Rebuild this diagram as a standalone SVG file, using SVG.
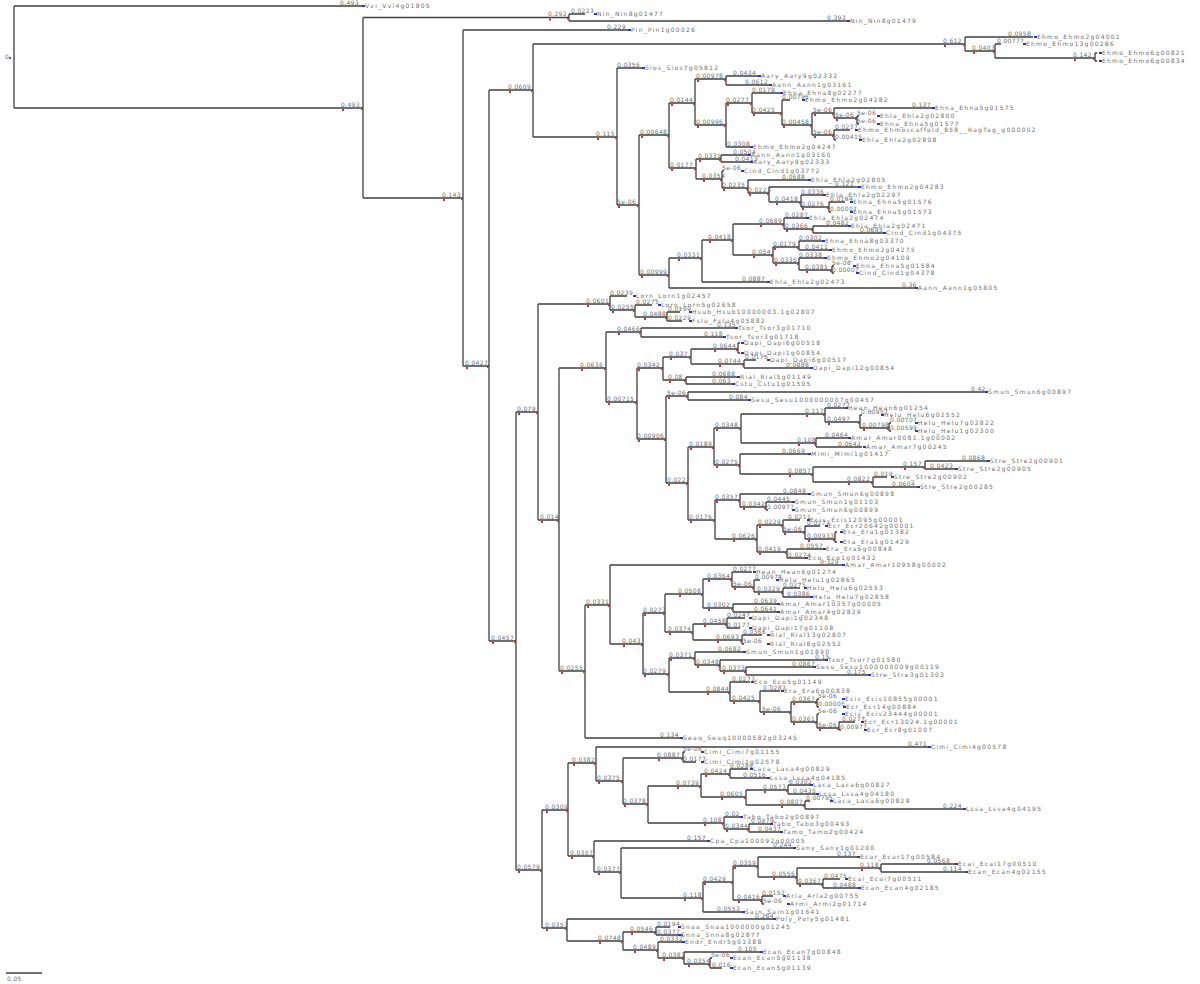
<svg xmlns="http://www.w3.org/2000/svg" width="1200" height="984" viewBox="0 0 1200 984">
<style>
.l{fill:none;stroke:#404040;stroke-width:1.3}
.b{font-family:"DejaVu Sans",sans-serif;font-size:6px;fill:#6e6e6e;letter-spacing:0.35px}
.n{font-family:"DejaVu Sans",sans-serif;font-size:6px;fill:#6e6e6e;letter-spacing:1.25px}
.r{fill:#d83030}
.m{fill:#3030d0}
</style>
<rect width="1200" height="984" fill="#ffffff"/>
<g id="connectors">
<path class="l" d="M14 6V108M14 6H362M14 108H363M363 17.5V198M363 17.5H569M363 198H463M569 14V21M569 14H585M569 21H847M463 30V366M463 30H628M463 366H489M489 90V641M489 90H533M489 641H516M533 44V137M533 44H965M533 137H617M965 37V51M965 37H1033M965 51H995M995 44V58M995 44H1001M995 58H1095M1095 53V61M1095 53H1097M1095 61H1097M617 68V205M617 68H642M617 205H639M639 135V275M639 135H669M639 275H669M669 103V168M669 103H695M669 168H696M695 79V125M695 79H726M695 125H726M726 76V85M726 76H758M726 85H769M726 103V147M726 103H752M726 147H750M752 93V113M752 93H780M752 113H782M782 100V125M782 100H790M782 125H812M812 113V135M812 113H834M812 135H834M834 108V118M834 108H932M834 118H857M857 116V124M857 116H859M857 124H859M834 130V140M834 130H850M834 140H836M696 159V179M696 159H721M696 179H722M721 155V162M721 155H748M721 162H750M722 171V188M722 171H724M722 188H748M748 180V193M748 180H808M748 193H769M769 187V202M769 187H858M769 202H801M801 195V207M801 195H823M801 207H829M829 202V212M829 202H845M829 212H831M669 258V288M669 258H702M669 288H915M702 240V282M702 240H733M702 282H767M733 224V255M733 224H784M733 255H773M784 218V229M784 218H806M784 229H813M813 226V233M813 226H848M813 233H883M773 247V263M773 247H799M773 263H799M799 241V250M799 241H822M799 250H829M799 258V270M799 258H824M799 270H832M832 266V273M832 266H834M832 273H834"/>
<path class="l" d="M516 412V870M516 412H538M516 870H542M538 304V520M538 304H610M538 520H559M610 296V310M610 296H627M610 310H635M635 305V317M635 305H652M635 317H667M667 312V321M667 312H680M667 321H682M559 368V671M559 368H606M559 671H585M606 332V402M606 332H641M606 402H637M641 328V337M641 328H735M641 337H723M637 368V439M637 368H663M637 439H666M663 357V380M663 357H691M663 380H686M691 349V364M691 349H738M691 364H744M738 343V353M738 343H740M738 353H740M744 360V368M744 360H756M744 368H810M686 377V384M686 377H737M686 384H732M666 396V483M666 396H688M666 483H688M688 392V400M688 392H985M688 400H748M688 447V520M688 447H714M688 520H715M714 428V465M714 428H741M714 465H740M741 414V443M741 414H825M741 443H816M825 408V422M825 408H845M825 422H860M860 415V428M860 415H862M860 428H889M889 423V431M889 423H891M889 431H891M816 438V447M816 438H848M816 447H862M740 454V474M740 454H808M740 474H813M813 467V482M813 467H925M813 482H873M925 461V469M925 461H987M925 469H955M873 477V487M873 477H887M873 487H917M715 500V539M715 500H740M715 539H757M740 494V507M740 494H808M740 507H766M766 502V510M766 502H792M766 510H768M757 525V552M757 525H783M757 552H787M783 520V532M783 520H800M783 532H805M805 526V539M805 526H820M805 539H835M835 532V542M835 532H837M835 542H837M787 549V558M787 549H823M787 558H805"/>
<path class="l" d="M585 605V738M585 605H610M585 738H680M610 565V644M610 565H842M610 644H643M643 613V674M643 613H665M643 674H669M665 594V632M665 594H703M665 632H693M703 579V608M703 579H732M703 608H733M732 572V587M732 572H752M732 587H754M754 580V592M754 580H760M754 592H783M783 588V597M783 588H800M783 597H810M733 604V612M733 604H777M733 612H777M693 624V640M693 624H727M693 640H742M727 618V628M727 618H745M727 628H740M742 635V644M742 635H762M742 644H744M669 658V692M669 658H695M669 692H730M695 652V665M695 652H743M695 665H720M720 660V671M720 660H825M720 671H746M746 667V675M746 667H813M746 675H868M730 682V701M730 682H750M730 701H760M760 691V712M760 691H780M760 712H791M791 702V722M791 702H817M791 722H817M817 699V707M817 699H819M817 707H819M817 714V728M817 714H819M817 728H839M839 722V730M839 722H855M839 730H841"/>
<path class="l" d="M542 810V928M542 810H568M542 928H567M568 763V856M568 763H596M568 856H594M596 747V781M596 747H928M596 781H623M623 758V804M623 758H683M623 804H648M683 752V762M683 752H685M683 762H696M648 786V823M648 786H701M648 823H724M701 774V797M701 774H730M701 797H746M730 769V778M730 769H748M730 778H767M746 790V805M746 790H788M746 805H805M788 785V794M788 785H810M788 794H816M805 801V809M805 801H810M805 809H963M724 817V829M724 817H740M724 829H749M749 824V832M749 824H770M749 832H780M594 841V872M594 841H707M594 872H621M621 848V898M621 848H793M621 898H703M703 882V912M703 882H733M703 912H742M733 866V900M733 866H758M733 900H762M758 857V877M758 857H857M758 877H797M797 868V884M797 868H881M797 884H823M881 864V872M881 864H955M881 872H965M823 879V888M823 879H840M823 888H858M762 896V904M762 896H773M762 904H764M567 919V941M567 919H773M567 941H623M623 932V950M623 932H656M623 950H658M656 927V935M656 927H670M656 935H683M658 942V958M658 942H682M658 958H684M684 952V964M684 952H760M684 964H710M710 958V968M710 958H712M710 968H722"/>
</g>
<g id="root"><text class="b" x="5" y="59">0</text><rect class="r" x="9" y="57" width="2" height="2"/></g>
<g id="scale-bar"><path class="l" d="M6 973H42" stroke-width="1"/><text class="b" x="7" y="981">0.05</text></g>
<g id="internal-nodes">
<g id="n363"><text class="b" x="341" y="106.5">0.493</text><rect class="r" x="342" y="109" width="2" height="2"/><rect class="r" x="361" y="108.5" width="1.6" height="1.6"/></g>
<g id="n569"><text class="b" x="548" y="16">0.292</text><rect class="r" x="549" y="18.5" width="2" height="2"/><rect class="r" x="567" y="18" width="1.6" height="1.6"/></g>
<g id="n463"><text class="b" x="442" y="196.5">0.143</text><rect class="r" x="443" y="199" width="2" height="2"/><rect class="r" x="461" y="198.5" width="1.6" height="1.6"/></g>
<g id="n489"><text class="b" x="465" y="364.5">0.0427</text><rect class="r" x="466" y="367" width="2" height="2"/><rect class="r" x="487" y="366.5" width="1.6" height="1.6"/></g>
<g id="n533"><text class="b" x="508" y="88.5">0.0609</text><rect class="r" x="509" y="91" width="2" height="2"/><rect class="r" x="531" y="90.5" width="1.6" height="1.6"/></g>
<g id="n516"><text class="b" x="491" y="639.5">0.0457</text><rect class="r" x="492" y="642" width="2" height="2"/><rect class="r" x="514" y="641.5" width="1.6" height="1.6"/></g>
<g id="n965"><text class="b" x="943" y="42.5">0.612</text><rect class="r" x="944" y="45" width="2" height="2"/><rect class="r" x="963" y="44.5" width="1.6" height="1.6"/></g>
<g id="n617"><text class="b" x="596" y="135.5">0.115</text><rect class="r" x="597" y="138" width="2" height="2"/><rect class="r" x="615" y="137.5" width="1.6" height="1.6"/></g>
<g id="n995"><text class="b" x="972" y="49.5">0.0403</text><rect class="r" x="973" y="52" width="2" height="2"/><rect class="r" x="993" y="51.5" width="1.6" height="1.6"/></g>
<g id="n1095"><text class="b" x="1073" y="56.5">0.142</text><rect class="r" x="1074" y="59" width="2" height="2"/><rect class="r" x="1093" y="58.5" width="1.6" height="1.6"/></g>
<g id="n639"><text class="b" x="617" y="203.5">5e-06</text><rect class="r" x="618" y="206" width="2" height="2"/><rect class="r" x="637" y="205.5" width="1.6" height="1.6"/></g>
<g id="n669a"><text class="b" x="640" y="133.5">0.00648</text><rect class="r" x="641" y="136" width="2" height="2"/><rect class="r" x="667" y="135.5" width="1.6" height="1.6"/></g>
<g id="n669b"><text class="b" x="640" y="273.5">0.00999</text><rect class="r" x="641" y="276" width="2" height="2"/><rect class="r" x="667" y="275.5" width="1.6" height="1.6"/></g>
<g id="n695"><text class="b" x="670" y="101.5">0.0144</text><rect class="r" x="671" y="104" width="2" height="2"/><rect class="r" x="693" y="103.5" width="1.6" height="1.6"/></g>
<g id="n696"><text class="b" x="670" y="166.5">0.0177</text><rect class="r" x="671" y="169" width="2" height="2"/><rect class="r" x="694" y="168.5" width="1.6" height="1.6"/></g>
<g id="n726a"><text class="b" x="696" y="77.5">0.00978</text><rect class="r" x="697" y="80" width="2" height="2"/><rect class="r" x="724" y="79.5" width="1.6" height="1.6"/></g>
<g id="n726b"><text class="b" x="696" y="123.5">0.00996</text><rect class="r" x="697" y="126" width="2" height="2"/><rect class="r" x="724" y="125.5" width="1.6" height="1.6"/></g>
<g id="n752"><text class="b" x="726" y="101.5">0.0277</text><rect class="r" x="727" y="104" width="2" height="2"/><rect class="r" x="750" y="103.5" width="1.6" height="1.6"/></g>
<g id="n782"><text class="b" x="752" y="111.5">0.0425</text><rect class="r" x="753" y="114" width="2" height="2"/><rect class="r" x="780" y="113.5" width="1.6" height="1.6"/></g>
<g id="n812"><text class="b" x="782" y="123.5">0.00458</text><rect class="r" x="783" y="126" width="2" height="2"/><rect class="r" x="810" y="125.5" width="1.6" height="1.6"/></g>
<g id="n834a"><text class="b" x="813" y="111.5">5e-06</text><rect class="r" x="814" y="114" width="2" height="2"/><rect class="r" x="832" y="113.5" width="1.6" height="1.6"/></g>
<g id="n834b"><text class="b" x="813" y="133.5">5e-06</text><rect class="r" x="814" y="136" width="2" height="2"/><rect class="r" x="832" y="135.5" width="1.6" height="1.6"/></g>
<g id="n857"><text class="b" x="835" y="116.5">5e-06</text><rect class="r" x="836" y="119" width="2" height="2"/><rect class="r" x="855" y="118.5" width="1.6" height="1.6"/></g>
<g id="n721"><text class="b" x="698" y="157.5">0.0331</text><rect class="r" x="699" y="160" width="2" height="2"/><rect class="r" x="719" y="159.5" width="1.6" height="1.6"/></g>
<g id="n722"><text class="b" x="702" y="177.5">0.0354</text><rect class="r" x="703" y="180" width="2" height="2"/><rect class="r" x="720" y="179.5" width="1.6" height="1.6"/></g>
<g id="n748"><text class="b" x="722" y="186.5">0.0235</text><rect class="r" x="723" y="189" width="2" height="2"/><rect class="r" x="746" y="188.5" width="1.6" height="1.6"/></g>
<g id="n769"><text class="b" x="748" y="191.5">0.0223</text><rect class="r" x="749" y="194" width="2" height="2"/><rect class="r" x="767" y="193.5" width="1.6" height="1.6"/></g>
<g id="n801"><text class="b" x="775" y="200.5">0.0418</text><rect class="r" x="776" y="203" width="2" height="2"/><rect class="r" x="799" y="202.5" width="1.6" height="1.6"/></g>
<g id="n829"><text class="b" x="801" y="205.5">0.0276</text><rect class="r" x="802" y="208" width="2" height="2"/><rect class="r" x="827" y="207.5" width="1.6" height="1.6"/></g>
<g id="n702"><text class="b" x="677" y="256.5">0.0331</text><rect class="r" x="678" y="259" width="2" height="2"/><rect class="r" x="700" y="258.5" width="1.6" height="1.6"/></g>
<g id="n733a"><text class="b" x="708" y="238.5">0.0418</text><rect class="r" x="709" y="241" width="2" height="2"/><rect class="r" x="731" y="240.5" width="1.6" height="1.6"/></g>
<g id="n784"><text class="b" x="759" y="222.5">0.0689</text><rect class="r" x="760" y="225" width="2" height="2"/><rect class="r" x="782" y="224.5" width="1.6" height="1.6"/></g>
<g id="n773"><text class="b" x="752" y="253.5">0.054</text><rect class="r" x="753" y="256" width="2" height="2"/><rect class="r" x="771" y="255.5" width="1.6" height="1.6"/></g>
<g id="n813a"><text class="b" x="785" y="227.5">0.0366</text><rect class="r" x="786" y="230" width="2" height="2"/><rect class="r" x="811" y="229.5" width="1.6" height="1.6"/></g>
<g id="n799a"><text class="b" x="773" y="245.5">0.0179</text><rect class="r" x="774" y="248" width="2" height="2"/><rect class="r" x="797" y="247.5" width="1.6" height="1.6"/></g>
<g id="n799b"><text class="b" x="774" y="261.5">0.0336</text><rect class="r" x="775" y="264" width="2" height="2"/><rect class="r" x="797" y="263.5" width="1.6" height="1.6"/></g>
<g id="n832"><text class="b" x="805" y="268.5">0.0385</text><rect class="r" x="806" y="271" width="2" height="2"/><rect class="r" x="830" y="270.5" width="1.6" height="1.6"/></g>
<g id="n538"><text class="b" x="517" y="410.5">0.079</text><rect class="r" x="518" y="413" width="2" height="2"/><rect class="r" x="536" y="412.5" width="1.6" height="1.6"/></g>
<g id="n542"><text class="b" x="517" y="868.5">0.0579</text><rect class="r" x="518" y="871" width="2" height="2"/><rect class="r" x="540" y="870.5" width="1.6" height="1.6"/></g>
<g id="n610a"><text class="b" x="586" y="302.5">0.0601</text><rect class="r" x="587" y="305" width="2" height="2"/><rect class="r" x="608" y="304.5" width="1.6" height="1.6"/></g>
<g id="n559"><text class="b" x="540" y="518.5">0.014</text><rect class="r" x="541" y="521" width="2" height="2"/><rect class="r" x="557" y="520.5" width="1.6" height="1.6"/></g>
<g id="n635"><text class="b" x="611" y="308.5">0.0255</text><rect class="r" x="612" y="311" width="2" height="2"/><rect class="r" x="633" y="310.5" width="1.6" height="1.6"/></g>
<g id="n667"><text class="b" x="643" y="315.5">0.0488</text><rect class="r" x="644" y="318" width="2" height="2"/><rect class="r" x="665" y="317.5" width="1.6" height="1.6"/></g>
<g id="n606"><text class="b" x="580" y="366.5">0.0636</text><rect class="r" x="581" y="369" width="2" height="2"/><rect class="r" x="604" y="368.5" width="1.6" height="1.6"/></g>
<g id="n585"><text class="b" x="560" y="669.5">0.0255</text><rect class="r" x="561" y="672" width="2" height="2"/><rect class="r" x="583" y="671.5" width="1.6" height="1.6"/></g>
<g id="n641"><text class="b" x="617" y="330.5">0.0466</text><rect class="r" x="618" y="333" width="2" height="2"/><rect class="r" x="639" y="332.5" width="1.6" height="1.6"/></g>
<g id="n637"><text class="b" x="607" y="400.5">0.00715</text><rect class="r" x="608" y="403" width="2" height="2"/><rect class="r" x="635" y="402.5" width="1.6" height="1.6"/></g>
<g id="n663"><text class="b" x="637" y="366.5">0.0342</text><rect class="r" x="638" y="369" width="2" height="2"/><rect class="r" x="661" y="368.5" width="1.6" height="1.6"/></g>
<g id="n666"><text class="b" x="637" y="437.5">0.00906</text><rect class="r" x="638" y="440" width="2" height="2"/><rect class="r" x="664" y="439.5" width="1.6" height="1.6"/></g>
<g id="n691"><text class="b" x="669" y="355.5">0.037</text><rect class="r" x="670" y="358" width="2" height="2"/><rect class="r" x="689" y="357.5" width="1.6" height="1.6"/></g>
<g id="n686"><text class="b" x="668" y="378.5">0.08</text><rect class="r" x="669" y="381" width="2" height="2"/><rect class="r" x="684" y="380.5" width="1.6" height="1.6"/></g>
<g id="n738"><text class="b" x="713" y="347.5">0.0644</text><rect class="r" x="714" y="350" width="2" height="2"/><rect class="r" x="736" y="349.5" width="1.6" height="1.6"/></g>
<g id="n744"><text class="b" x="718" y="362.5">0.0744</text><rect class="r" x="719" y="365" width="2" height="2"/><rect class="r" x="742" y="364.5" width="1.6" height="1.6"/></g>
<g id="n688a"><text class="b" x="667" y="394.5">5e-06</text><rect class="r" x="668" y="397" width="2" height="2"/><rect class="r" x="686" y="396.5" width="1.6" height="1.6"/></g>
<g id="n688b"><text class="b" x="667" y="481.5">0.0227</text><rect class="r" x="668" y="484" width="2" height="2"/><rect class="r" x="686" y="483.5" width="1.6" height="1.6"/></g>
<g id="n714"><text class="b" x="689" y="445.5">0.0189</text><rect class="r" x="690" y="448" width="2" height="2"/><rect class="r" x="712" y="447.5" width="1.6" height="1.6"/></g>
<g id="n715"><text class="b" x="689" y="518.5">0.0176</text><rect class="r" x="690" y="521" width="2" height="2"/><rect class="r" x="713" y="520.5" width="1.6" height="1.6"/></g>
<g id="n741"><text class="b" x="715" y="426.5">0.0348</text><rect class="r" x="716" y="429" width="2" height="2"/><rect class="r" x="739" y="428.5" width="1.6" height="1.6"/></g>
<g id="n740a"><text class="b" x="715" y="463.5">0.0275</text><rect class="r" x="716" y="466" width="2" height="2"/><rect class="r" x="738" y="465.5" width="1.6" height="1.6"/></g>
<g id="n825"><text class="b" x="805" y="412.5">0.117</text><rect class="r" x="806" y="415" width="2" height="2"/><rect class="r" x="823" y="414.5" width="1.6" height="1.6"/></g>
<g id="n816"><text class="b" x="797" y="441.5">0.108</text><rect class="r" x="798" y="444" width="2" height="2"/><rect class="r" x="814" y="443.5" width="1.6" height="1.6"/></g>
<g id="n860"><text class="b" x="827" y="420.5">0.0497</text><rect class="r" x="828" y="423" width="2" height="2"/><rect class="r" x="858" y="422.5" width="1.6" height="1.6"/></g>
<g id="n889"><text class="b" x="862" y="426.5">0.00798</text><rect class="r" x="863" y="429" width="2" height="2"/><rect class="r" x="887" y="428.5" width="1.6" height="1.6"/></g>
<g id="n813b"><text class="b" x="788" y="472.5">0.0857</text><rect class="r" x="789" y="475" width="2" height="2"/><rect class="r" x="811" y="474.5" width="1.6" height="1.6"/></g>
<g id="n925"><text class="b" x="903" y="465.5">0.157</text><rect class="r" x="904" y="468" width="2" height="2"/><rect class="r" x="923" y="467.5" width="1.6" height="1.6"/></g>
<g id="n873"><text class="b" x="847" y="480.5">0.0822</text><rect class="r" x="848" y="483" width="2" height="2"/><rect class="r" x="871" y="482.5" width="1.6" height="1.6"/></g>
<g id="n740b"><text class="b" x="715" y="498.5">0.0357</text><rect class="r" x="716" y="501" width="2" height="2"/><rect class="r" x="738" y="500.5" width="1.6" height="1.6"/></g>
<g id="n757"><text class="b" x="732" y="537.5">0.0626</text><rect class="r" x="733" y="540" width="2" height="2"/><rect class="r" x="755" y="539.5" width="1.6" height="1.6"/></g>
<g id="n766"><text class="b" x="742" y="505.5">0.0342</text><rect class="r" x="743" y="508" width="2" height="2"/><rect class="r" x="764" y="507.5" width="1.6" height="1.6"/></g>
<g id="n783a"><text class="b" x="758" y="523.5">0.0229</text><rect class="r" x="759" y="526" width="2" height="2"/><rect class="r" x="781" y="525.5" width="1.6" height="1.6"/></g>
<g id="n787"><text class="b" x="758" y="550.5">0.0419</text><rect class="r" x="759" y="553" width="2" height="2"/><rect class="r" x="785" y="552.5" width="1.6" height="1.6"/></g>
<g id="n805a"><text class="b" x="783" y="530.5">5e-06</text><rect class="r" x="784" y="533" width="2" height="2"/><rect class="r" x="803" y="532.5" width="1.6" height="1.6"/></g>
<g id="n835"><text class="b" x="807" y="537.5">0.00933</text><rect class="r" x="808" y="540" width="2" height="2"/><rect class="r" x="833" y="539.5" width="1.6" height="1.6"/></g>
<g id="n610b"><text class="b" x="586" y="603.5">0.0331</text><rect class="r" x="587" y="606" width="2" height="2"/><rect class="r" x="608" y="605.5" width="1.6" height="1.6"/></g>
<g id="n643"><text class="b" x="622" y="642.5">0.043</text><rect class="r" x="623" y="645" width="2" height="2"/><rect class="r" x="641" y="644.5" width="1.6" height="1.6"/></g>
<g id="n665"><text class="b" x="643" y="611.5">0.0273</text><rect class="r" x="644" y="614" width="2" height="2"/><rect class="r" x="663" y="613.5" width="1.6" height="1.6"/></g>
<g id="n669c"><text class="b" x="643" y="672.5">0.0279</text><rect class="r" x="644" y="675" width="2" height="2"/><rect class="r" x="667" y="674.5" width="1.6" height="1.6"/></g>
<g id="n703a"><text class="b" x="678" y="592.5">0.0508</text><rect class="r" x="679" y="595" width="2" height="2"/><rect class="r" x="701" y="594.5" width="1.6" height="1.6"/></g>
<g id="n693"><text class="b" x="668" y="630.5">0.0374</text><rect class="r" x="669" y="633" width="2" height="2"/><rect class="r" x="691" y="632.5" width="1.6" height="1.6"/></g>
<g id="n732"><text class="b" x="707" y="577.5">0.0364</text><rect class="r" x="708" y="580" width="2" height="2"/><rect class="r" x="730" y="579.5" width="1.6" height="1.6"/></g>
<g id="n733b"><text class="b" x="707" y="606.5">0.0302</text><rect class="r" x="708" y="609" width="2" height="2"/><rect class="r" x="731" y="608.5" width="1.6" height="1.6"/></g>
<g id="n754"><text class="b" x="733" y="585.5">5e-06</text><rect class="r" x="734" y="588" width="2" height="2"/><rect class="r" x="752" y="587.5" width="1.6" height="1.6"/></g>
<g id="n783b"><text class="b" x="757" y="590.5">0.0329</text><rect class="r" x="758" y="593" width="2" height="2"/><rect class="r" x="781" y="592.5" width="1.6" height="1.6"/></g>
<g id="n727"><text class="b" x="703" y="622.5">0.0458</text><rect class="r" x="704" y="625" width="2" height="2"/><rect class="r" x="725" y="624.5" width="1.6" height="1.6"/></g>
<g id="n742"><text class="b" x="716" y="638.5">0.0693</text><rect class="r" x="717" y="641" width="2" height="2"/><rect class="r" x="740" y="640.5" width="1.6" height="1.6"/></g>
<g id="n695b"><text class="b" x="669" y="656.5">0.0371</text><rect class="r" x="670" y="659" width="2" height="2"/><rect class="r" x="693" y="658.5" width="1.6" height="1.6"/></g>
<g id="n730a"><text class="b" x="706" y="690.5">0.0844</text><rect class="r" x="707" y="693" width="2" height="2"/><rect class="r" x="728" y="692.5" width="1.6" height="1.6"/></g>
<g id="n720"><text class="b" x="696" y="663.5">0.0348</text><rect class="r" x="697" y="666" width="2" height="2"/><rect class="r" x="718" y="665.5" width="1.6" height="1.6"/></g>
<g id="n746a"><text class="b" x="722" y="669.5">0.0373</text><rect class="r" x="723" y="672" width="2" height="2"/><rect class="r" x="744" y="671.5" width="1.6" height="1.6"/></g>
<g id="n760"><text class="b" x="732" y="699.5">0.0425</text><rect class="r" x="733" y="702" width="2" height="2"/><rect class="r" x="758" y="701.5" width="1.6" height="1.6"/></g>
<g id="n791"><text class="b" x="762" y="710.5">5e-06</text><rect class="r" x="763" y="713" width="2" height="2"/><rect class="r" x="789" y="712.5" width="1.6" height="1.6"/></g>
<g id="n817a"><text class="b" x="792" y="700.5">0.0367</text><rect class="r" x="793" y="703" width="2" height="2"/><rect class="r" x="815" y="702.5" width="1.6" height="1.6"/></g>
<g id="n817b"><text class="b" x="792" y="720.5">0.0361</text><rect class="r" x="793" y="723" width="2" height="2"/><rect class="r" x="815" y="722.5" width="1.6" height="1.6"/></g>
<g id="n839"><text class="b" x="818" y="726.5">5e-06</text><rect class="r" x="819" y="729" width="2" height="2"/><rect class="r" x="837" y="728.5" width="1.6" height="1.6"/></g>
<g id="n568"><text class="b" x="545" y="808.5">0.0309</text><rect class="r" x="546" y="811" width="2" height="2"/><rect class="r" x="566" y="810.5" width="1.6" height="1.6"/></g>
<g id="n567"><text class="b" x="545" y="926.5">0.0357</text><rect class="r" x="546" y="929" width="2" height="2"/><rect class="r" x="565" y="928.5" width="1.6" height="1.6"/></g>
<g id="n596"><text class="b" x="572" y="761.5">0.0382</text><rect class="r" x="573" y="764" width="2" height="2"/><rect class="r" x="594" y="763.5" width="1.6" height="1.6"/></g>
<g id="n594"><text class="b" x="570" y="854.5">0.0307</text><rect class="r" x="571" y="857" width="2" height="2"/><rect class="r" x="592" y="856.5" width="1.6" height="1.6"/></g>
<g id="n623a"><text class="b" x="597" y="779.5">0.0375</text><rect class="r" x="598" y="782" width="2" height="2"/><rect class="r" x="621" y="781.5" width="1.6" height="1.6"/></g>
<g id="n683"><text class="b" x="657" y="756.5">0.0887</text><rect class="r" x="658" y="759" width="2" height="2"/><rect class="r" x="681" y="758.5" width="1.6" height="1.6"/></g>
<g id="n648"><text class="b" x="623" y="802.5">0.0378</text><rect class="r" x="624" y="805" width="2" height="2"/><rect class="r" x="646" y="804.5" width="1.6" height="1.6"/></g>
<g id="n701"><text class="b" x="676" y="784.5">0.0739</text><rect class="r" x="677" y="787" width="2" height="2"/><rect class="r" x="699" y="786.5" width="1.6" height="1.6"/></g>
<g id="n724"><text class="b" x="703" y="821.5">0.108</text><rect class="r" x="704" y="824" width="2" height="2"/><rect class="r" x="722" y="823.5" width="1.6" height="1.6"/></g>
<g id="n730c"><text class="b" x="704" y="772.5">0.0424</text><rect class="r" x="705" y="775" width="2" height="2"/><rect class="r" x="728" y="774.5" width="1.6" height="1.6"/></g>
<g id="n746c"><text class="b" x="720" y="795.5">0.0605</text><rect class="r" x="721" y="798" width="2" height="2"/><rect class="r" x="744" y="797.5" width="1.6" height="1.6"/></g>
<g id="n788"><text class="b" x="763" y="788.5">0.0573</text><rect class="r" x="764" y="791" width="2" height="2"/><rect class="r" x="786" y="790.5" width="1.6" height="1.6"/></g>
<g id="n805c"><text class="b" x="780" y="803.5">0.0807</text><rect class="r" x="781" y="806" width="2" height="2"/><rect class="r" x="803" y="805.5" width="1.6" height="1.6"/></g>
<g id="n749"><text class="b" x="725" y="827.5">0.0344</text><rect class="r" x="726" y="830" width="2" height="2"/><rect class="r" x="747" y="829.5" width="1.6" height="1.6"/></g>
<g id="n621"><text class="b" x="597" y="870.5">0.0377</text><rect class="r" x="598" y="873" width="2" height="2"/><rect class="r" x="619" y="872.5" width="1.6" height="1.6"/></g>
<g id="n703c"><text class="b" x="683" y="896.5">0.118</text><rect class="r" x="684" y="899" width="2" height="2"/><rect class="r" x="701" y="898.5" width="1.6" height="1.6"/></g>
<g id="n733c"><text class="b" x="703" y="880.5">0.0429</text><rect class="r" x="704" y="883" width="2" height="2"/><rect class="r" x="731" y="882.5" width="1.6" height="1.6"/></g>
<g id="n758"><text class="b" x="733" y="864.5">0.0359</text><rect class="r" x="734" y="867" width="2" height="2"/><rect class="r" x="756" y="866.5" width="1.6" height="1.6"/></g>
<g id="n762"><text class="b" x="737" y="898.5">0.0416</text><rect class="r" x="738" y="901" width="2" height="2"/><rect class="r" x="760" y="900.5" width="1.6" height="1.6"/></g>
<g id="n797"><text class="b" x="772" y="875.5">0.0556</text><rect class="r" x="773" y="878" width="2" height="2"/><rect class="r" x="795" y="877.5" width="1.6" height="1.6"/></g>
<g id="n881"><text class="b" x="860" y="866.5">0.118</text><rect class="r" x="861" y="869" width="2" height="2"/><rect class="r" x="879" y="868.5" width="1.6" height="1.6"/></g>
<g id="n823"><text class="b" x="798" y="882.5">0.0367</text><rect class="r" x="799" y="885" width="2" height="2"/><rect class="r" x="821" y="884.5" width="1.6" height="1.6"/></g>
<g id="n623b"><text class="b" x="598" y="939.5">0.0748</text><rect class="r" x="599" y="942" width="2" height="2"/><rect class="r" x="621" y="941.5" width="1.6" height="1.6"/></g>
<g id="n656"><text class="b" x="630" y="930.5">0.0546</text><rect class="r" x="631" y="933" width="2" height="2"/><rect class="r" x="654" y="932.5" width="1.6" height="1.6"/></g>
<g id="n658"><text class="b" x="633" y="948.5">0.0489</text><rect class="r" x="634" y="951" width="2" height="2"/><rect class="r" x="656" y="950.5" width="1.6" height="1.6"/></g>
<g id="n684"><text class="b" x="662" y="956.5">0.0383</text><rect class="r" x="663" y="959" width="2" height="2"/><rect class="r" x="682" y="958.5" width="1.6" height="1.6"/></g>
<g id="n710"><text class="b" x="687" y="962.5">0.0354</text><rect class="r" x="688" y="965" width="2" height="2"/><rect class="r" x="708" y="964.5" width="1.6" height="1.6"/></g>
</g>
<g id="leaves">
<g id="L-Vvi_Vvi4g01805"><text class="b" x="340" y="4.5">0.493</text><rect class="m" x="362" y="5" width="3" height="2"/><text class="n" x="365" y="8.3">Vvi_Vvi4g01805</text></g>
<g id="L-Nin_Nin8g01477"><text class="b" x="571" y="12.5">0.0223</text><rect class="m" x="594" y="13" width="3" height="2"/><text class="n" x="597" y="16.3">Nin_Nin8g01477</text></g>
<g id="L-Nin_Nin8g01479"><text class="b" x="827" y="19.5">0.393</text><rect class="m" x="847" y="20" width="3" height="2"/><text class="n" x="850" y="23.3">Nin_Nin8g01479</text></g>
<g id="L-Pin_Pin1g00026"><text class="b" x="607" y="28.5">0.229</text><rect class="m" x="628" y="29" width="3" height="2"/><text class="n" x="631" y="32.3">Pin_Pin1g00026</text></g>
<g id="L-Ehmo_Ehmo2g04001"><text class="b" x="1008" y="35.5">0.0958</text><rect class="m" x="1034" y="36" width="3" height="2"/><text class="n" x="1037" y="39.3">Ehmo_Ehmo2g04001</text></g>
<g id="L-Ehmo_Ehmo13g00286"><text class="b" x="997" y="42.5">0.00777</text><rect class="m" x="1023" y="43" width="3" height="2"/><text class="n" x="1026" y="46.3">Ehmo_Ehmo13g00286</text></g>
<g id="L-Ehmo_Ehmo6g00821"><rect class="m" x="1099" y="52" width="3" height="2"/><text class="n" x="1102" y="55.3">Ehmo_Ehmo6g00821</text></g>
<g id="L-Ehmo_Ehmo6g00834"><rect class="m" x="1099" y="60" width="3" height="2"/><text class="n" x="1102" y="63.3">Ehmo_Ehmo6g00834</text></g>
<g id="L-Sios_Sios7g05812"><text class="b" x="617" y="66.5">0.0356</text><rect class="m" x="642" y="67" width="3" height="2"/><text class="n" x="645" y="70.3">Sios_Sios7g05812</text></g>
<g id="L-Aary_Aary9g02332"><text class="b" x="733" y="74.5">0.0434</text><rect class="m" x="758" y="75" width="3" height="2"/><text class="n" x="761" y="78.3">Aary_Aary9g02332</text></g>
<g id="L-Aann_Aann1g03161"><text class="b" x="745" y="83.5">0.0612</text><rect class="m" x="769" y="84" width="3" height="2"/><text class="n" x="772" y="87.3">Aann_Aann1g03161</text></g>
<g id="L-Ehna_Ehna8g02277"><text class="b" x="752" y="91.5">0.0178</text><rect class="m" x="780" y="92" width="3" height="2"/><text class="n" x="783" y="95.3">Ehna_Ehna8g02277</text></g>
<g id="L-Ehmo_Ehmo2g04282"><text class="b" x="782" y="98.5">0.00795</text><rect class="m" x="802" y="99" width="3" height="2"/><text class="n" x="805" y="102.3">Ehmo_Ehmo2g04282</text></g>
<g id="L-Ehna_Ehna5g01575"><text class="b" x="912" y="106.5">0.137</text><rect class="m" x="932" y="107" width="3" height="2"/><text class="n" x="935" y="110.3">Ehna_Ehna5g01575</text></g>
<g id="L-Ehla_Ehla2g02800"><text class="b" x="857" y="114.5">5e-06</text><rect class="m" x="877" y="115" width="3" height="2"/><text class="n" x="880" y="118.3">Ehla_Ehla2g02800</text></g>
<g id="L-Ehna_Ehna5g01577"><text class="b" x="857" y="122.5">5e-06</text><rect class="m" x="877" y="123" width="3" height="2"/><text class="n" x="880" y="126.3">Ehna_Ehna5g01577</text></g>
<g id="L-Ehmo_Ehmoscaffold_858"><text class="b" x="835" y="128.5">0.0237</text><rect class="m" x="855" y="129" width="3" height="2"/><text class="n" x="858" y="132.3">Ehmo_Ehmoscaffold_858__RagTag_g000002</text></g>
<g id="L-Ehla_Ehla2g02808"><text class="b" x="835" y="138.5">0.00415</text><rect class="m" x="859" y="139" width="3" height="2"/><text class="n" x="862" y="142.3">Ehla_Ehla2g02808</text></g>
<g id="L-Ehmo_Ehmo2g04247"><text class="b" x="727" y="145.5">0.0308</text><rect class="m" x="750" y="146" width="3" height="2"/><text class="n" x="753" y="149.3">Ehmo_Ehmo2g04247</text></g>
<g id="L-Aann_Aann1g03160"><text class="b" x="733" y="153.5">0.0504</text><rect class="m" x="748" y="154" width="3" height="2"/><text class="n" x="751" y="157.3">Aann_Aann1g03160</text></g>
<g id="L-Aary_Aary9g02333"><text class="b" x="735" y="160.5">0.0413</text><rect class="m" x="750" y="161" width="3" height="2"/><text class="n" x="753" y="164.3">Aary_Aary9g02333</text></g>
<g id="L-Cind_Cind1g03772"><text class="b" x="722" y="169.5">5e-06</text><rect class="m" x="741" y="170" width="3" height="2"/><text class="n" x="744" y="173.3">Cind_Cind1g03772</text></g>
<g id="L-Ehla_Ehla2g02805"><text class="b" x="782" y="178.5">0.0688</text><rect class="m" x="808" y="179" width="3" height="2"/><text class="n" x="811" y="182.3">Ehla_Ehla2g02805</text></g>
<g id="L-Ehmo_Ehmo2g04283"><text class="b" x="835" y="185.5">0.121</text><rect class="m" x="858" y="186" width="3" height="2"/><text class="n" x="861" y="189.3">Ehmo_Ehmo2g04283</text></g>
<g id="L-Ehla_Ehla2g02297"><text class="b" x="801" y="193.5">0.0336</text><rect class="m" x="823" y="194" width="3" height="2"/><text class="n" x="826" y="197.3">Ehla_Ehla2g02297</text></g>
<g id="L-Ehna_Ehna5g01576"><text class="b" x="830" y="200.5">0.0194</text><rect class="m" x="850" y="201" width="3" height="2"/><text class="n" x="853" y="204.3">Ehna_Ehna5g01576</text></g>
<g id="L-Ehna_Ehna5g01573"><text class="b" x="830" y="210.5">0.00007</text><rect class="m" x="850" y="211" width="3" height="2"/><text class="n" x="853" y="214.3">Ehna_Ehna5g01573</text></g>
<g id="L-Ehla_Ehla2g02474"><text class="b" x="785" y="216.5">0.0287</text><rect class="m" x="806" y="217" width="3" height="2"/><text class="n" x="809" y="220.3">Ehla_Ehla2g02474</text></g>
<g id="L-Ehla_Ehla2g02471"><text class="b" x="826" y="224.5">0.0482</text><rect class="m" x="848" y="225" width="3" height="2"/><text class="n" x="851" y="228.3">Ehla_Ehla2g02471</text></g>
<g id="L-Cind_Cind1g04375"><text class="b" x="860" y="231.5">0.0885</text><rect class="m" x="883" y="232" width="3" height="2"/><text class="n" x="886" y="235.3">Cind_Cind1g04375</text></g>
<g id="L-Ehna_Ehna8g03370"><text class="b" x="799" y="239.5">0.0302</text><rect class="m" x="822" y="240" width="3" height="2"/><text class="n" x="825" y="243.3">Ehna_Ehna8g03370</text></g>
<g id="L-Ehmo_Ehmo2g04275"><text class="b" x="805" y="248.5">0.0411</text><rect class="m" x="829" y="249" width="3" height="2"/><text class="n" x="832" y="252.3">Ehmo_Ehmo2g04275</text></g>
<g id="L-Ehmo_Ehmo2g04109"><text class="b" x="799" y="256.5">0.0338</text><rect class="m" x="824" y="257" width="3" height="2"/><text class="n" x="827" y="260.3">Ehmo_Ehmo2g04109</text></g>
<g id="L-Ehna_Ehna5g01584"><text class="b" x="832" y="264.5">5e-06</text><rect class="m" x="853" y="265" width="3" height="2"/><text class="n" x="856" y="268.3">Ehna_Ehna5g01584</text></g>
<g id="L-Cind_Cind1g04378"><text class="b" x="832" y="271.5">0.00007</text><rect class="m" x="856" y="272" width="3" height="2"/><text class="n" x="859" y="275.3">Cind_Cind1g04378</text></g>
<g id="L-Ehla_Ehla2g02473"><text class="b" x="742" y="280.5">0.0887</text><rect class="m" x="767" y="281" width="3" height="2"/><text class="n" x="770" y="284.3">Ehla_Ehla2g02473</text></g>
<g id="L-Aann_Aann1g05805"><text class="b" x="902" y="286.5">0.36</text><rect class="m" x="915" y="287" width="3" height="2"/><text class="n" x="918" y="290.3">Aann_Aann1g05805</text></g>
<g id="L-Lorn_Lorn1g02457"><text class="b" x="610" y="294.5">0.0239</text><rect class="m" x="633" y="295" width="3" height="2"/><text class="n" x="636" y="298.3">Lorn_Lorn1g02457</text></g>
<g id="L-Lorn_Lorn5g02658"><text class="b" x="636" y="303.5">0.0275</text><rect class="m" x="658" y="304" width="3" height="2"/><text class="n" x="661" y="307.3">Lorn_Lorn5g02658</text></g>
<g id="L-Hsub_Hsub10000003.1g02807"><text class="b" x="668" y="310.5">0.0199</text><rect class="m" x="689" y="311" width="3" height="2"/><text class="n" x="692" y="314.3">Hsub_Hsub10000003.1g02807</text></g>
<g id="L-Fslu_Fslu4g05882"><text class="b" x="668" y="319.5">0.0229</text><rect class="m" x="689" y="320" width="3" height="2"/><text class="n" x="692" y="323.3">Fslu_Fslu4g05882</text></g>
<g id="L-Tsor_Tsor3g01710"><text class="b" x="717" y="326.5">0.135</text><rect class="m" x="735" y="327" width="3" height="2"/><text class="n" x="738" y="330.3">Tsor_Tsor3g01710</text></g>
<g id="L-Tsor_Tsor3g01718"><text class="b" x="704" y="335.5">0.118</text><rect class="m" x="723" y="336" width="3" height="2"/><text class="n" x="726" y="339.3">Tsor_Tsor3g01718</text></g>
<g id="L-Dapi_Dapi6g00518"><rect class="m" x="741" y="342" width="3" height="2"/><text class="n" x="744" y="345.3">Dapi_Dapi6g00518</text></g>
<g id="L-Dapi_Dapi1g00854"><rect class="m" x="741" y="352" width="3" height="2"/><text class="n" x="744" y="355.3">Dapi_Dapi1g00854</text></g>
<g id="L-Dapi_Dapi6g00517"><text class="b" x="745" y="358.5">0.0175</text><rect class="m" x="767" y="359" width="3" height="2"/><text class="n" x="770" y="362.3">Dapi_Dapi6g00517</text></g>
<g id="L-Dapi_Dapi12g00854"><text class="b" x="786" y="366.5">0.0888</text><rect class="m" x="810" y="367" width="3" height="2"/><text class="n" x="813" y="370.3">Dapi_Dapi12g00854</text></g>
<g id="L-Rial_Rial5g01149"><text class="b" x="712" y="375.5">0.0688</text><rect class="m" x="737" y="376" width="3" height="2"/><text class="n" x="740" y="379.3">Rial_Rial5g01149</text></g>
<g id="L-Cstu_Cstu1g01505"><text class="b" x="712" y="382.5">0.063</text><rect class="m" x="732" y="383" width="3" height="2"/><text class="n" x="735" y="386.3">Cstu_Cstu1g01505</text></g>
<g id="L-Smun_Smun6g00897"><text class="b" x="971" y="390.5">0.42</text><rect class="m" x="985" y="391" width="3" height="2"/><text class="n" x="988" y="394.3">Smun_Smun6g00897</text></g>
<g id="L-Sesu_Sesu1000000007g00457"><text class="b" x="729" y="398.5">0.084</text><rect class="m" x="748" y="399" width="3" height="2"/><text class="n" x="751" y="402.3">Sesu_Sesu1000000007g00457</text></g>
<g id="L-Hean_Hean6g01254"><text class="b" x="827" y="406.5">0.0277</text><rect class="m" x="845" y="407" width="3" height="2"/><text class="n" x="848" y="410.3">Hean_Hean6g01254</text></g>
<g id="L-Helu_Helu6g02552"><text class="b" x="861" y="413.5">0.00957</text><rect class="m" x="881" y="414" width="3" height="2"/><text class="n" x="884" y="417.3">Helu_Helu6g02552</text></g>
<g id="L-Helu_Helu7g02822"><text class="b" x="890" y="421.5">0.00707</text><rect class="m" x="915" y="422" width="3" height="2"/><text class="n" x="918" y="425.3">Helu_Helu7g02822</text></g>
<g id="L-Helu_Helu1g02300"><text class="b" x="890" y="429.5">0.00599</text><rect class="m" x="915" y="430" width="3" height="2"/><text class="n" x="918" y="433.3">Helu_Helu1g02300</text></g>
<g id="L-Amar_Amar0081.1g00002"><text class="b" x="825" y="436.5">0.0464</text><rect class="m" x="848" y="437" width="3" height="2"/><text class="n" x="851" y="440.3">Amar_Amar0081.1g00002</text></g>
<g id="L-Amar_Amar7g00245"><text class="b" x="838" y="445.5">0.0642</text><rect class="m" x="863" y="446" width="3" height="2"/><text class="n" x="866" y="449.3">Amar_Amar7g00245</text></g>
<g id="L-Mimi_Mimi1g01417"><text class="b" x="782" y="452.5">0.0669</text><rect class="m" x="808" y="453" width="3" height="2"/><text class="n" x="811" y="456.3">Mimi_Mimi1g01417</text></g>
<g id="L-Stre_Stre2g00901"><text class="b" x="962" y="459.5">0.0868</text><rect class="m" x="987" y="460" width="3" height="2"/><text class="n" x="990" y="463.3">Stre_Stre2g00901</text></g>
<g id="L-Stre_Stre2g00905"><text class="b" x="930" y="467.5">0.0423</text><rect class="m" x="955" y="468" width="3" height="2"/><text class="n" x="958" y="471.3">Stre_Stre2g00905</text></g>
<g id="L-Stre_Stre2g00902"><text class="b" x="874" y="475.5">0.019</text><rect class="m" x="891" y="476" width="3" height="2"/><text class="n" x="894" y="479.3">Stre_Stre2g00902</text></g>
<g id="L-Stre_Stre2g00285"><text class="b" x="892" y="485.5">0.0604</text><rect class="m" x="917" y="486" width="3" height="2"/><text class="n" x="920" y="489.3">Stre_Stre2g00285</text></g>
<g id="L-Smun_Smun6g00898"><text class="b" x="783" y="492.5">0.0848</text><rect class="m" x="808" y="493" width="3" height="2"/><text class="n" x="811" y="496.3">Smun_Smun6g00898</text></g>
<g id="L-Smun_Smun1g01103"><text class="b" x="767" y="500.5">0.0445</text><rect class="m" x="792" y="501" width="3" height="2"/><text class="n" x="795" y="504.3">Smun_Smun1g01103</text></g>
<g id="L-Smun_Smun6g00899"><text class="b" x="767" y="508.5">0.00977</text><rect class="m" x="792" y="509" width="3" height="2"/><text class="n" x="795" y="512.3">Smun_Smun6g00899</text></g>
<g id="L-Ecis_Ecis12095g00001"><text class="b" x="788" y="518.5">0.0211</text><rect class="m" x="807" y="519" width="3" height="2"/><text class="n" x="810" y="522.3">Ecis_Ecis12095g00001</text></g>
<g id="L-Ecr_Ecr20642g00001"><text class="b" x="807" y="524.5">0.0277</text><rect class="m" x="825" y="525" width="3" height="2"/><text class="n" x="828" y="528.3">Ecr_Ecr20642g00001</text></g>
<g id="L-Era_Era1g01382"><rect class="m" x="840" y="531" width="3" height="2"/><text class="n" x="843" y="534.3">Era_Era1g01382</text></g>
<g id="L-Era_Era1g01429"><rect class="m" x="840" y="541" width="3" height="2"/><text class="n" x="843" y="544.3">Era_Era1g01429</text></g>
<g id="L-Era_Era6g00848"><text class="b" x="800" y="547.5">0.0557</text><rect class="m" x="823" y="548" width="3" height="2"/><text class="n" x="826" y="551.3">Era_Era6g00848</text></g>
<g id="L-Eco_Eco1g01432"><text class="b" x="788" y="556.5">0.0274</text><rect class="m" x="805" y="557" width="3" height="2"/><text class="n" x="808" y="560.3">Eco_Eco1g01432</text></g>
<g id="L-Amar_Amar10958g00002"><text class="b" x="820" y="563.5">0.329</text><rect class="m" x="842" y="564" width="3" height="2"/><text class="n" x="845" y="567.3">Amar_Amar10958g00002</text></g>
<g id="L-Hean_Hean6g01274"><text class="b" x="733" y="570.5">0.0277</text><rect class="m" x="753" y="571" width="3" height="2"/><text class="n" x="756" y="574.3">Hean_Hean6g01274</text></g>
<g id="L-Helu_Helu1g02865"><text class="b" x="755" y="578.5">0.00974</text><rect class="m" x="776" y="579" width="3" height="2"/><text class="n" x="779" y="582.3">Helu_Helu1g02865</text></g>
<g id="L-Helu_Helu6g02553"><text class="b" x="783" y="586.5">0.0275</text><rect class="m" x="804" y="587" width="3" height="2"/><text class="n" x="807" y="590.3">Helu_Helu6g02553</text></g>
<g id="L-Helu_Helu7g02858"><text class="b" x="787" y="595.5">0.0386</text><rect class="m" x="810" y="596" width="3" height="2"/><text class="n" x="813" y="599.3">Helu_Helu7g02858</text></g>
<g id="L-Amar_Amar10357g00005"><text class="b" x="754" y="602.5">0.0639</text><rect class="m" x="777" y="603" width="3" height="2"/><text class="n" x="780" y="606.3">Amar_Amar10357g00005</text></g>
<g id="L-Amar_Amar4g02829"><text class="b" x="754" y="610.5">0.0641</text><rect class="m" x="777" y="611" width="3" height="2"/><text class="n" x="780" y="614.3">Amar_Amar4g02829</text></g>
<g id="L-Dapi_Dapi1g02348"><text class="b" x="727" y="616.5">0.0247</text><rect class="m" x="749" y="617" width="3" height="2"/><text class="n" x="752" y="620.3">Dapi_Dapi1g02348</text></g>
<g id="L-Dapi_Dapi17g01108"><text class="b" x="727" y="626.5">0.0177</text><rect class="m" x="749" y="627" width="3" height="2"/><text class="n" x="752" y="630.3">Dapi_Dapi17g01108</text></g>
<g id="L-Rial_Rial13g02807"><text class="b" x="743" y="633.5">0.0366</text><rect class="m" x="767" y="634" width="3" height="2"/><text class="n" x="770" y="637.3">Rial_Rial13g02807</text></g>
<g id="L-Rial_Rial8g02552"><text class="b" x="743" y="642.5">5e-06</text><rect class="m" x="767" y="643" width="3" height="2"/><text class="n" x="770" y="646.3">Rial_Rial8g02552</text></g>
<g id="L-Smun_Smun1g01890"><text class="b" x="718" y="650.5">0.0682</text><rect class="m" x="743" y="651" width="3" height="2"/><text class="n" x="746" y="654.3">Smun_Smun1g01890</text></g>
<g id="L-Tsor_Tsor7g01580"><text class="b" x="815" y="658.5">0.15</text><rect class="m" x="825" y="659" width="3" height="2"/><text class="n" x="828" y="662.3">Tsor_Tsor7g01580</text></g>
<g id="L-Sesu_Sesu1000000009g00119"><text class="b" x="792" y="665.5">0.0867</text><rect class="m" x="813" y="666" width="3" height="2"/><text class="n" x="816" y="669.3">Sesu_Sesu1000000009g00119</text></g>
<g id="L-Stre_Stre3g01303"><text class="b" x="847" y="673.5">0.175</text><rect class="m" x="868" y="674" width="3" height="2"/><text class="n" x="871" y="677.3">Stre_Stre3g01303</text></g>
<g id="L-Eco_Eco5g01149"><text class="b" x="732" y="680.5">0.0277</text><rect class="m" x="751" y="681" width="3" height="2"/><text class="n" x="754" y="684.3">Eco_Eco5g01149</text></g>
<g id="L-Era_Era6g00838"><text class="b" x="763" y="689.5">0.0287</text><rect class="m" x="781" y="690" width="3" height="2"/><text class="n" x="784" y="693.3">Era_Era6g00838</text></g>
<g id="L-Ecis_Ecis10855g00001"><text class="b" x="818" y="697.5">5e-06</text><rect class="m" x="842" y="698" width="3" height="2"/><text class="n" x="845" y="701.3">Ecis_Ecis10855g00001</text></g>
<g id="L-Ecr_Ecr14g00884"><text class="b" x="818" y="705.5">0.00005</text><rect class="m" x="843" y="706" width="3" height="2"/><text class="n" x="846" y="709.3">Ecr_Ecr14g00884</text></g>
<g id="L-Ecis_Ecis23444g00001"><text class="b" x="818" y="712.5">5e-06</text><rect class="m" x="842" y="713" width="3" height="2"/><text class="n" x="845" y="716.3">Ecis_Ecis23444g00001</text></g>
<g id="L-Ecr_Ecr13024.1g00001"><text class="b" x="842" y="720.5">0.0277</text><rect class="m" x="861" y="721" width="3" height="2"/><text class="n" x="864" y="724.3">Ecr_Ecr13024.1g00001</text></g>
<g id="L-Ecr_Ecr8g01007"><text class="b" x="840" y="728.5">0.00977</text><rect class="m" x="864" y="729" width="3" height="2"/><text class="n" x="867" y="732.3">Ecr_Ecr8g01007</text></g>
<g id="L-Seaq_Seaq10000582g03245"><text class="b" x="660" y="736.5">0.134</text><rect class="m" x="680" y="737" width="3" height="2"/><text class="n" x="683" y="740.3">Seaq_Seaq10000582g03245</text></g>
<g id="L-Cimi_Cimi4g00578"><text class="b" x="908" y="745.5">0.471</text><rect class="m" x="928" y="746" width="3" height="2"/><text class="n" x="931" y="749.3">Cimi_Cimi4g00578</text></g>
<g id="L-Cimi_Cimi7g01155"><text class="b" x="683" y="750.5">5e-06</text><rect class="m" x="701" y="751" width="3" height="2"/><text class="n" x="704" y="754.3">Cimi_Cimi7g01155</text></g>
<g id="L-Cimi_Cimi1g02578"><text class="b" x="683" y="760.5">0.0177</text><rect class="m" x="701" y="761" width="3" height="2"/><text class="n" x="704" y="764.3">Cimi_Cimi1g02578</text></g>
<g id="L-Laca_Laca4g00829"><text class="b" x="730" y="767.5">0.0289</text><rect class="m" x="750" y="768" width="3" height="2"/><text class="n" x="753" y="771.3">Laca_Laca4g00829</text></g>
<g id="L-Lssa_Lssa4g04185"><text class="b" x="743" y="776.5">0.0516</text><rect class="m" x="767" y="777" width="3" height="2"/><text class="n" x="770" y="780.3">Lssa_Lssa4g04185</text></g>
<g id="L-Laca_Laca6g00827"><text class="b" x="789" y="783.5">0.0302</text><rect class="m" x="810" y="784" width="3" height="2"/><text class="n" x="813" y="787.3">Laca_Laca6g00827</text></g>
<g id="L-Lssa_Lssa4g04180"><text class="b" x="793" y="792.5">0.0435</text><rect class="m" x="816" y="793" width="3" height="2"/><text class="n" x="819" y="796.3">Lssa_Lssa4g04180</text></g>
<g id="L-Laca_Laca6g00828"><text class="b" x="806" y="799.5">0.00795</text><rect class="m" x="830" y="800" width="3" height="2"/><text class="n" x="833" y="803.3">Laca_Laca6g00828</text></g>
<g id="L-Lssa_Lssa4g04195"><text class="b" x="943" y="807.5">0.224</text><rect class="m" x="963" y="808" width="3" height="2"/><text class="n" x="966" y="811.3">Lssa_Lssa4g04195</text></g>
<g id="L-Tabo_Tabo2g00897"><text class="b" x="725" y="815.5">0.02</text><rect class="m" x="740" y="816" width="3" height="2"/><text class="n" x="743" y="819.3">Tabo_Tabo2g00897</text></g>
<g id="L-Tabo_Tabo3g00493"><text class="b" x="751" y="822.5">0.0279</text><rect class="m" x="770" y="823" width="3" height="2"/><text class="n" x="773" y="826.3">Tabo_Tabo3g00493</text></g>
<g id="L-Tamo_Tamo2g00424"><text class="b" x="758" y="830.5">0.0437</text><rect class="m" x="780" y="831" width="3" height="2"/><text class="n" x="783" y="834.3">Tamo_Tamo2g00424</text></g>
<g id="L-Cpa_Cpa100092g00005"><text class="b" x="687" y="839.5">0.157</text><rect class="m" x="707" y="840" width="3" height="2"/><text class="n" x="710" y="843.3">Cpa_Cpa100092g00005</text></g>
<g id="L-Sany_Sany1g01200"><text class="b" x="773" y="846.5">0.244</text><rect class="m" x="793" y="847" width="3" height="2"/><text class="n" x="796" y="850.3">Sany_Sany1g01200</text></g>
<g id="L-Ecar_Ecar17g00584"><text class="b" x="837" y="855.5">0.137</text><rect class="m" x="857" y="856" width="3" height="2"/><text class="n" x="860" y="859.3">Ecar_Ecar17g00584</text></g>
<g id="L-Ecai_Ecai17g00510"><text class="b" x="927" y="862.5">0.0568</text><rect class="m" x="955" y="863" width="3" height="2"/><text class="n" x="958" y="866.3">Ecai_Ecai17g00510</text></g>
<g id="L-Ecan_Ecan4g02155"><text class="b" x="943" y="870.5">0.114</text><rect class="m" x="965" y="871" width="3" height="2"/><text class="n" x="968" y="874.3">Ecan_Ecan4g02155</text></g>
<g id="L-Ecai_Ecai7g00511"><text class="b" x="824" y="877.5">0.0475</text><rect class="m" x="845" y="878" width="3" height="2"/><text class="n" x="848" y="881.3">Ecai_Ecai7g00511</text></g>
<g id="L-Ecan_Ecan4g02185"><text class="b" x="833" y="886.5">0.0488</text><rect class="m" x="858" y="887" width="3" height="2"/><text class="n" x="861" y="890.3">Ecan_Ecan4g02185</text></g>
<g id="L-Arla_Arla2g00755"><text class="b" x="762" y="894.5">0.0152</text><rect class="m" x="783" y="895" width="3" height="2"/><text class="n" x="786" y="898.3">Arla_Arla2g00755</text></g>
<g id="L-Armi_Armi2g01714"><text class="b" x="763" y="902.5">5e-06</text><rect class="m" x="787" y="903" width="3" height="2"/><text class="n" x="790" y="906.3">Armi_Armi2g01714</text></g>
<g id="L-Sain_Sain1g01641"><text class="b" x="717" y="910.5">0.0553</text><rect class="m" x="742" y="911" width="3" height="2"/><text class="n" x="745" y="914.3">Sain_Sain1g01641</text></g>
<g id="L-Poly_Poly5g01481"><text class="b" x="755" y="917.5">0.284</text><rect class="m" x="773" y="918" width="3" height="2"/><text class="n" x="776" y="921.3">Poly_Poly5g01481</text></g>
<g id="L-Snaa_Snaa1000000g01245"><text class="b" x="657" y="925.5">0.0194</text><rect class="m" x="678" y="926" width="3" height="2"/><text class="n" x="681" y="929.3">Snaa_Snaa1000000g01245</text></g>
<g id="L-Snna_Snna8g02877"><text class="b" x="657" y="933.5">0.0377</text><rect class="m" x="678" y="934" width="3" height="2"/><text class="n" x="681" y="937.3">Snna_Snna8g02877</text></g>
<g id="L-Endr_Endr5g01388"><text class="b" x="660" y="940.5">0.0332</text><rect class="m" x="682" y="941" width="3" height="2"/><text class="n" x="685" y="944.3">Endr_Endr5g01388</text></g>
<g id="L-Ecan_Ecan7g00848"><text class="b" x="738" y="950.5">0.105</text><rect class="m" x="760" y="951" width="3" height="2"/><text class="n" x="763" y="954.3">Ecan_Ecan7g00848</text></g>
<g id="L-Ecan_Ecan5g01138"><text class="b" x="711" y="956.5">5e-06</text><rect class="m" x="730" y="957" width="3" height="2"/><text class="n" x="733" y="960.3">Ecan_Ecan5g01138</text></g>
<g id="L-Ecan_Ecan5g01139"><text class="b" x="712" y="966.5">0.016</text><rect class="m" x="730" y="967" width="3" height="2"/><text class="n" x="733" y="970.3">Ecan_Ecan5g01139</text></g>
</g>
</svg>
